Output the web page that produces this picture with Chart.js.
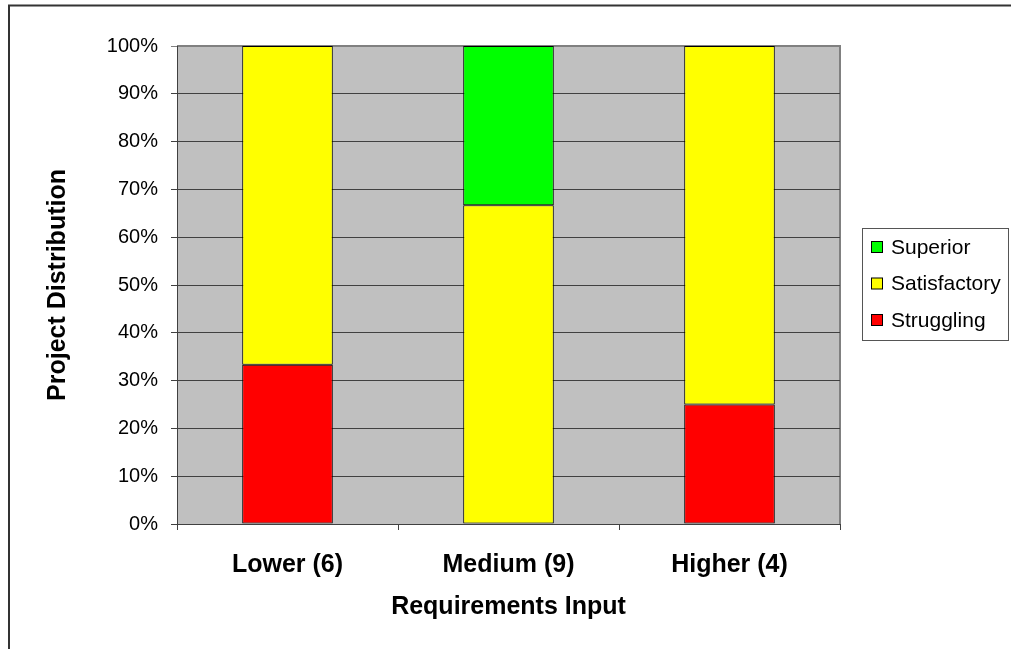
<!DOCTYPE html>
<html lang="en">
<head>
<meta charset="UTF-8">
<title>Project Distribution</title>
<script src="https://cdn.jsdelivr.net/npm/chart.js"></script>
<style>
    body { margin: 0; background: #fff; overflow: hidden; }
    .box { width: 1011px; height: 649px; position: relative; }
</style>
</head>
<body>
<div class="box"><canvas id="distChart"></canvas></div>
<script>
// data (percent of projects in each group)
const categories = ['Lower (6)', 'Medium (9)', 'Higher (4)'];
const struggling = [33.3, 0, 25];
const satisfactory = [66.7, 66.7, 75];
const superior = [0, 33.3, 0];

const FONT = 'Liberation Sans, Arial, sans-serif';

// gray plot area + outer frame + legend box
const plotDeco = {
    id: 'plotDeco',
    beforeDraw(chart) {
        const { ctx, chartArea: a } = chart;
        ctx.save();
        ctx.fillStyle = '#c0c0c0';
        ctx.fillRect(a.left, a.top, a.right - a.left, a.bottom - a.top);
        ctx.strokeStyle = '#808080';
        ctx.lineWidth = 2;
        ctx.beginPath();
        ctx.moveTo(a.left, a.top);
        ctx.lineTo(a.right, a.top);
        ctx.lineTo(a.right, a.bottom);
        ctx.stroke();
        ctx.restore();
    },
    afterDraw(chart) {
        const ctx = chart.ctx;
        ctx.save();
        // outer frame
        ctx.strokeStyle = '#333';
        ctx.lineWidth = 2;
        ctx.beginPath();
        ctx.moveTo(9, 649);
        ctx.lineTo(9, 5.5);
        ctx.lineTo(1011, 5.5);
        ctx.stroke();

        // legend
        ctx.lineWidth = 1;
        ctx.strokeStyle = '#555';
        ctx.strokeRect(862.5, 228.5, 146, 112);
        const items = chart.data.datasets.slice().reverse();
        ctx.font = '21px ' + FONT;
        ctx.textBaseline = 'middle';
        ctx.textAlign = 'left';
        items.forEach((ds, i) => {
            const y = 247 + i * 36.5;
            ctx.fillStyle = ds.backgroundColor;
            ctx.fillRect(871.5, y - 5.5, 11, 11);
            ctx.strokeStyle = '#000';
            ctx.strokeRect(871.5, y - 5.5, 11, 11);
            ctx.fillStyle = '#000';
            ctx.fillText(ds.label, 891, y + 1);
        });
        ctx.restore();
    }
};

const barStyle = { borderColor: '#000', borderWidth: 1, borderSkipped: false,
    barPercentage: 0.41, categoryPercentage: 1 };

new Chart(document.getElementById('distChart'), {
    type: 'bar',
    data: {
        labels: categories,
        datasets: [
            Object.assign({ label: 'Struggling', data: struggling, backgroundColor: '#ff0000' }, barStyle),
            Object.assign({ label: 'Satisfactory', data: satisfactory, backgroundColor: '#ffff00' }, barStyle),
            Object.assign({ label: 'Superior', data: superior, backgroundColor: '#00ff00' }, barStyle)
        ]
    },
    options: {
        responsive: true,
        maintainAspectRatio: false,
        animation: false,
        layout: { padding: { left: 0, top: 46, right: 171, bottom: 0 } },
        plugins: {
            legend: { display: false },
            tooltip: { enabled: false }
        },
        scales: {
            x: {
                stacked: true,
                afterFit(scale) { scale.height = 125; },
                grid: { drawOnChartArea: false, tickLength: 6, color: '#404040' },
                border: { color: '#404040' },
                ticks: { color: '#000', padding: 20, font: { family: FONT, size: 25, weight: 'bold' } },
                title: {
                    display: true, text: 'Requirements Input', color: '#000',
                    padding: { top: 0, bottom: 27 },
                    font: { family: FONT, size: 25, weight: 'bold' }
                }
            },
            y: {
                stacked: true,
                min: 0,
                max: 100,
                afterFit(scale) { scale.width = 177; },
                grid: {
                    tickLength: 6,
                    color: ctx => ctx.tick && ctx.tick.value === 100 ? '#808080' : '#404040'
                },
                border: { color: '#404040' },
                ticks: {
                    stepSize: 10, color: '#000', padding: 13,
                    font: { family: FONT, size: 20 },
                    callback: v => v + '%'
                },
                title: {
                    display: true, text: 'Project Distribution', color: '#000',
                    padding: { top: 43, bottom: 0 },
                    font: { family: FONT, size: 25, weight: 'bold' }
                }
            }
        }
    },
    plugins: [plotDeco]
});
</script>
</body>
</html>
